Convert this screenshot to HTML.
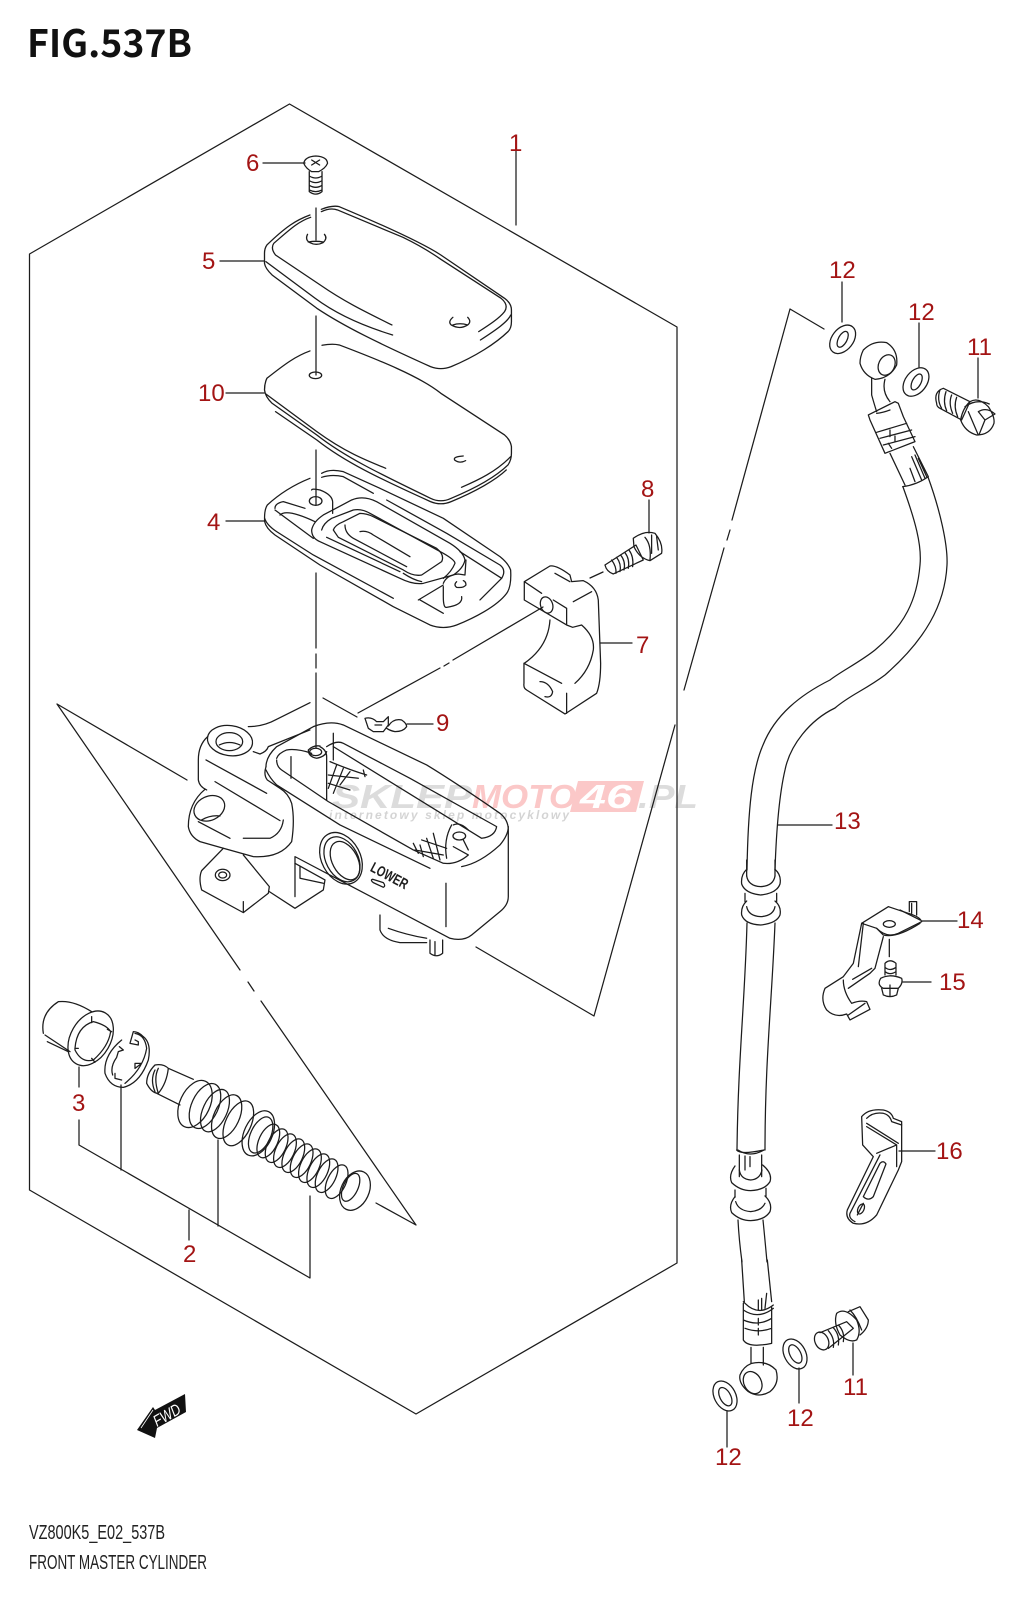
<!DOCTYPE html>
<html><head><meta charset="utf-8"><style>
html,body{margin:0;padding:0;background:#fff;width:1028px;height:1600px;overflow:hidden}
svg{display:block}
.l{fill:none;stroke:#1c1c1c;stroke-width:1.25;stroke-linejoin:round;stroke-linecap:round}
.z path,.z ellipse,.z circle{stroke-width:3.8}
text.n{font-family:"Liberation Sans",sans-serif;font-size:24px;fill:#a31414;stroke:none}
</style></head><body>
<svg width="1028" height="1600" viewBox="0 0 1028 1600" xmlns="http://www.w3.org/2000/svg">
<text x="27" y="57" font-family="Noto Sans CJK JP,Liberation Sans,sans-serif" font-weight="700" font-size="38" fill="#111" textLength="165" lengthAdjust="spacingAndGlyphs">FIG.537B</text>

<!-- watermark -->
<g font-family="Liberation Sans,sans-serif" font-style="italic" font-weight="700">
<path d="M578,781 H644 L636,812 H570 Z" fill="#fbc8c8"/>
<text x="332" y="808" font-size="33" fill="#dcdcdc" textLength="140" lengthAdjust="spacingAndGlyphs">SKLEP</text>
<text x="472" y="808" font-size="33" fill="#fbc8c8" textLength="104" lengthAdjust="spacingAndGlyphs">MOTO</text>
<text x="580" y="808" font-size="33" fill="#fff" textLength="52" lengthAdjust="spacingAndGlyphs">46</text>
<text x="638" y="808" font-size="33" fill="#dcdcdc" textLength="60" lengthAdjust="spacingAndGlyphs">.PL</text>
<text x="329" y="819" font-size="12" fill="#d4d4d4" textLength="240" lengthAdjust="spacing">internetowy sklep motocyklowy</text>
</g>

<!-- frames and leaders -->
<g class="l">
<path d="M289.5,104 L29.5,254 V1190 L416,1414 L677,1263 V327 Z"/>
<path d="M57,704 L187,780 M57,704 L240,970 M248,982 L254,991 M261,1001 L416,1225 L376,1203"/>
<path d="M790,309 L824,329 M790,309 L732,520 M730,530 L727,540 M724,548 L684,690 M675,725 L594,1016 L476,947"/>
<path d="M543,607 L453,660 M449,663 L444,666 M440,668 L358,713 M323,698 L357,717"/>
<path d="M516,225 V147"/><!-- 1 -->
<path d="M263,163 H305 M220,261 H264 M226,393 H264 M226,521 H264 M600,643 H632 M433,724 H407"/>
<path d="M649,500 V533 M590,578 L603,572"/>
<path d="M316,208 V240 M316,316 V375 M316,450 V505 M316,573 V648 M316,654 V668 M316,673 V748"/>
<path d="M842,282 V322 M919,323 V367 M978,358 V398"/>
<path d="M778,825 H832 M922,921 H957 M903,982 H931 M899,1151 H935"/>
<path d="M853,1343 V1375 M799,1368 V1403 M727,1412 V1447"/>
<path d="M79,1067 V1087 M79,1120 V1145 L310,1278 V1196 M121,1085 V1170 M218,1140 V1226 M189,1210 V1240"/>
</g>

<!-- lids (zoom 1 coordinates) -->
<g class="l z" transform="scale(.3444,.3333)">
<path d="M900,645 C860,660 830,680 775,735 Q768,745 768,760 V790 Q770,805 790,825 L920,925 C1000,980 1100,1030 1250,1100 Q1280,1112 1310,1100 C1380,1070 1440,1030 1475,995 Q1485,985 1485,965 V930 Q1485,910 1465,895 L1280,765 C1220,725 1100,670 985,620 Q965,615 933,628"/>
<path d="M902,652 C865,665 840,690 795,730 Q785,745 800,765 L930,855 C1000,905 1060,935 1138,975"/>
<path d="M772,785 L915,895 C980,945 1060,980 1140,1005"/>
<path d="M933,635 Q960,622 980,630 L1170,712 Q1230,742 1280,778 L1455,895 Q1478,915 1465,935 C1450,955 1420,975 1390,995"/>
<path d="M1395,1020 C1440,990 1475,965 1483,945"/>
<path d="M893,703 Q885,720 900,728 Q918,738 938,728 Q952,715 942,703 M895,726 Q918,722 938,726"/>
<path d="M1315,952 Q1300,965 1310,975 Q1335,990 1358,975 Q1370,965 1358,952 M1315,975 Q1335,968 1358,975"/>
<!-- screw -->
<path d="M882,490 Q885,470 917,468 Q950,470 951,490 Q945,505 925,515 H905 Q888,505 882,490 Z"/>
<path d="M905,480 L928,495 M928,480 L905,495"/>
<path d="M898,515 V575 Q917,590 935,575 V515 M898,528 Q917,540 935,528 M898,542 Q917,554 935,542 M898,556 Q917,568 935,556 M898,570 Q917,580 935,570"/>
<!-- gasket 10 -->
<path d="M900,1053 C860,1068 830,1090 775,1135 Q768,1150 768,1170 Q770,1190 790,1210 L920,1305 C1000,1370 1100,1420 1250,1495 Q1280,1510 1310,1495 C1380,1465 1440,1430 1475,1395 Q1485,1380 1485,1360 V1340 Q1482,1320 1465,1305 L1280,1180 C1220,1130 1100,1080 985,1035 Q965,1030 935,1036"/>
<path d="M772,1182 L920,1295 C1000,1355 1060,1380 1120,1405"/>
<path d="M800,1235 L920,1320 C1000,1385 1100,1435 1250,1505 Q1280,1518 1310,1505 C1380,1475 1440,1440 1470,1410"/>
<path d="M1340,1462 C1390,1440 1440,1415 1483,1370"/>
<ellipse cx="916" cy="1126" rx="18" ry="10"/>
<path d="M1345,1368 Q1315,1370 1320,1380 Q1335,1392 1352,1382"/>
</g>

<!-- reservoir gasket 4, clamp, body (zoom 2 coordinates) -->
<g class="l z" transform="translate(180,450) scale(.3333)">
<path d="M390,85 C340,105 300,130 262,165 Q252,180 254,215 Q258,235 285,255 L420,345 L640,470 L750,525 Q790,540 830,525 C880,505 950,470 980,430 Q995,410 992,360 Q985,340 960,320 L790,205 L600,115 L490,65 Q450,55 425,70"/>
<path d="M254,205 Q260,225 290,245 L400,315 L640,445"/>
<path d="M425,82 Q455,72 490,80 L580,130 M620,150 L800,250 L960,345 Q980,360 965,385 L900,450 M285,175 Q285,160 310,155 L375,175 M285,180 L400,265"/>
<path d="M300,195 Q320,175 405,215"/>
<path d="M395,240 Q400,215 430,195 L515,150 Q550,135 590,155 L810,280 Q850,305 855,330 Q850,355 820,375 L730,400 Q700,405 660,385 L420,275 Q395,265 395,240 Z"/>
<path d="M425,240 Q430,220 455,205 L520,180 Q545,175 570,190 L790,310 Q825,330 825,340 Q815,365 790,385 M440,262 L660,365 M725,395 Q700,390 670,370"/>
<path d="M460,240 Q465,225 490,215 L540,190 Q560,190 580,200 L770,295 Q795,315 785,335 L725,375 Q700,380 670,360 L475,262 Z"/>
<path d="M495,225 Q495,250 520,265 L680,350 M540,245 Q560,240 580,255 L690,320"/>
<path d="M395,120 Q395,115 420,120 Q460,135 458,160 V190"/>
<ellipse cx="407" cy="153" rx="19" ry="13"/>
<path d="M715,450 L790,405 M790,400 Q800,375 835,372 L855,375 L858,330 M790,440 V410 M845,440 Q850,465 800,472 Q790,475 790,440"/>
<path d="M830,395 Q820,405 830,412 Q850,415 858,405 Q858,395 850,392"/>
<path d="M720,450 L790,490 M965,385 L840,305"/>
<!-- clamp 7 -->
<path d="M1033,395 L1110,348 Q1130,345 1170,375 L1175,395 L1210,392 Q1250,410 1255,450 L1262,640 Q1262,700 1250,730 L1155,792 L1040,720 Q1030,715 1032,700 V640 L1145,700 M1033,395 V450 L1160,525 L1178,532 L1205,525 Q1245,560 1240,600 Q1230,660 1185,700 M1033,395 L1085,430 M1120,450 L1160,475 M1180,455 L1235,425 M1160,475 V525"/>
<path d="M1033,640 Q1105,590 1110,510"/>
<path d="M1125,370 L1170,395 M1160,730 V790"/>
<ellipse cx="1100" cy="465" rx="18" ry="25" transform="rotate(-20 1100 465)"/>
<path d="M1080,695 Q1105,695 1118,725 Q1115,745 1095,740"/>
<!-- bolt 8 -->
<path d="M1275,345 L1368,285 L1390,330 L1300,372 Q1280,365 1275,345 Z"/>
<path d="M1295,330 Q1310,350 1308,370 M1310,322 Q1325,342 1320,365 M1322,315 Q1338,335 1332,360 M1335,308 Q1350,328 1345,355 M1347,300 Q1362,320 1358,350"/>
<path d="M1360,265 Q1395,240 1425,250 Q1450,280 1445,310 L1410,332 Q1378,325 1362,290 Z"/>
<path d="M1395,262 Q1415,285 1410,330 M1415,255 V310 M1430,260 L1435,300"/>
<!-- wing nut 9 -->
<path d="M555,805 Q575,800 590,815 H610 L625,800 L625,825 L610,845 H580 L565,835 Z M585,825 H605"/>
<path d="M625,828 Q640,805 665,810 Q680,820 680,830 Q670,845 645,845 Q630,842 620,835"/>
<!-- body -->
<path d="M390,758 L290,808 Q250,830 205,830"/>
<ellipse cx="150" cy="872" rx="68" ry="45" transform="rotate(8 150 872)"/>
<ellipse cx="148" cy="875" rx="40" ry="27"/>
<path d="M118,885 Q148,870 180,885"/>
<path d="M83,860 Q55,885 55,930 V990 Q58,1010 80,1020 M220,905 L240,912 Q260,905 265,890 L390,840"/>
<path d="M78,930 L260,1030 M105,995 L300,1112"/>
<path d="M75,1018 Q25,1060 25,1130 Q30,1160 60,1175 L130,1195 L220,1220 Q300,1225 335,1175 Q345,1110 335,1060 Q325,1030 300,1015 L262,990 Q250,975 258,950"/>
<path d="M55,1115 L150,1165 M190,1165 L270,1165 Q305,1150 310,1110"/>
<ellipse cx="88" cy="1075" rx="48" ry="36" transform="rotate(-25 88 1075)"/>
<path d="M65,1110 Q90,1095 120,1098"/>
<path d="M258,950 Q258,920 290,890 L400,830 Q450,810 490,825 L740,945 Q830,1000 960,1090 Q985,1110 985,1140 V1340 Q985,1365 960,1385 L875,1455 Q850,1475 810,1465 L345,1220 V1340"/>
<path d="M258,960 Q270,985 290,1005 L480,1125 L750,1255 M845,1250 Q900,1240 960,1185 Q985,1155 985,1130"/>
<path d="M290,925 Q295,910 320,900 Q350,895 395,910 M290,930 Q290,950 305,960 L445,1055 L700,1200 L790,1240 Q830,1245 865,1215 L820,1190"/>
<path d="M440,890 Q470,870 490,880 L690,985 L950,1130 Q945,1160 905,1165 L460,890"/>
<path d="M460,850 V930 M333,920 V985 M440,920 V1050 M420,890 Q440,900 440,920 M385,900 Q400,885 420,888 M385,900 Q385,920 410,925 Q435,920 440,905"/>
<ellipse cx="407" cy="906" rx="18" ry="11"/>
<path d="M450,935 Q510,960 560,975 M470,945 L445,1015 M490,955 L460,1030 M510,965 L480,1005 M445,975 L535,985 M445,1000 L510,1020 M550,960 L555,980"/>
<path d="M700,1180 L715,1210 M720,1185 L730,1220 M740,1165 L760,1225 M760,1150 L780,1230 M815,1125 Q790,1170 800,1225 M705,1200 L790,1215 M725,1170 L800,1195"/>
<ellipse cx="838" cy="1158" rx="19" ry="12"/>
<path d="M820,1125 Q840,1115 865,1140 M850,1170 L865,1200"/>
<ellipse cx="483" cy="1225" rx="58" ry="82" transform="rotate(-28 483 1225)"/>
<ellipse cx="486" cy="1228" rx="48" ry="72" transform="rotate(-28 486 1228)"/>
<ellipse cx="495" cy="1232" rx="38" ry="62" transform="rotate(-28 495 1232)"/>
<path d="M798,1300 V1430"/>
<text font-family="Liberation Sans,sans-serif" font-weight="700" font-size="44" fill="#1c1c1c" style="stroke:none" transform="translate(568,1262) rotate(28) scale(.74,1)">LOWER</text>
<path d="M578,1288 L610,1298 Q618,1308 610,1312 L580,1298 Q570,1290 578,1288 Z"/>
<path d="M130,1195 L65,1262 Q55,1285 65,1320 L190,1388 L265,1330 L268,1310 L190,1215 M190,1388 V1355"/>
<ellipse cx="128" cy="1275" rx="22" ry="17"/>
<ellipse cx="128" cy="1275" rx="12" ry="9"/>
<path d="M268,1325 L345,1375 L430,1320 L435,1290 L345,1240 M360,1250 V1285 L430,1300"/>
<path d="M600,1395 V1440 Q610,1470 660,1478 H740 M625,1435 Q680,1455 740,1465"/>
<path d="M750,1470 V1510 Q770,1525 788,1510 V1470 M765,1475 V1515"/>
</g>

<!-- cap, circlip, piston, spring (zoom 3 coordinates) -->
<g class="l z" transform="translate(20,980) scale(.3333)">
<path d="M70,160 Q60,100 115,65 Q160,60 215,95 M75,165 L150,215 M82,185 L145,215"/>
<ellipse cx="212" cy="175" rx="60" ry="88" transform="rotate(30 212 175)"/>
<path d="M165,205 Q170,140 220,125 Q260,135 272,155 Q265,200 220,240 Q185,250 165,210 Z"/>
<path d="M215,110 V128 M262,148 L275,155 M165,205 H175 M215,235 L225,247"/>
<path d="M305,180 Q250,225 255,280 Q270,322 310,322 Q360,310 385,240 Q395,190 370,170 Q355,155 340,155 L330,190 L355,195 V185 L345,180 M345,160 Q375,165 380,205 Q370,265 315,310 M285,295 L305,300 M285,280 V295 M298,200 L310,210 L295,215 L290,232 Q270,260 278,285 M345,265 L365,250 L345,250 V265"/>
<path d="M405,255 Q380,280 380,310 Q395,340 415,340 Q440,310 445,265 Q430,250 405,255 Z M405,270 Q390,300 405,335 M415,265 Q400,295 415,340 M445,265 L520,298 M410,340 L480,375"/>
<ellipse cx="525" cy="372" rx="45" ry="75" transform="rotate(25 525 372)"/>
<ellipse cx="555" cy="378" rx="40" ry="72" transform="rotate(25 555 378)"/>
<ellipse cx="585" cy="392" rx="36" ry="68" transform="rotate(25 585 392)"/>
<ellipse cx="620" cy="410" rx="38" ry="70" transform="rotate(25 620 410)"/>
<ellipse cx="655" cy="430" rx="38" ry="72" transform="rotate(25 655 430)"/>
<ellipse cx="715" cy="460" rx="42" ry="72" transform="rotate(25 715 460)"/>
<ellipse cx="722" cy="465" rx="30" ry="58" transform="rotate(25 722 465)"/>
<ellipse cx="745" cy="483" rx="28" ry="54" transform="rotate(25 745 483)"/>
<ellipse cx="770" cy="497" rx="28" ry="54" transform="rotate(25 770 497)"/>
<ellipse cx="795" cy="512" rx="28" ry="54" transform="rotate(25 795 512)"/>
<ellipse cx="820" cy="527" rx="28" ry="54" transform="rotate(25 820 527)"/>
<ellipse cx="845" cy="542" rx="28" ry="54" transform="rotate(25 845 542)"/>
<ellipse cx="870" cy="557" rx="28" ry="54" transform="rotate(25 870 557)"/>
<ellipse cx="895" cy="572" rx="28" ry="54" transform="rotate(25 895 572)"/>
<ellipse cx="920" cy="587" rx="28" ry="54" transform="rotate(25 920 587)"/>
<ellipse cx="950" cy="605" rx="28" ry="54" transform="rotate(25 950 605)"/>
<ellipse cx="1005" cy="632" rx="42" ry="62" transform="rotate(25 1005 632)"/>
<ellipse cx="992" cy="622" rx="22" ry="45" transform="rotate(25 992 622)"/>
</g>

<!-- hose -->
<g class="l">
<path d="M903,487 C915,520 922,545 920,565 C917,600 905,625 875,650 C860,662 840,672 830,680 C800,695 775,715 763,745 C752,770 748,810 747,870"/>
<path d="M928,477 C940,510 948,545 947,565 C945,605 925,640 885,675 C865,690 850,695 835,708 C810,720 790,745 785,770 C778,800 776,840 775,870"/>
<path d="M747,923 C745,1000 738,1060 737,1150 M775,923 C772,1000 765,1060 765,1150"/>
<path d="M738,1150 Q750,1158 764,1150"/>
<path d="M738,1220 Q739,1240 742,1262 M763,1220 Q765,1240 767,1262"/>
</g>
<!-- fittings (zoom 4) -->
<g class="l z" transform="translate(720,260) scale(.3333)">
<ellipse cx="368" cy="238" rx="48" ry="32" transform="rotate(-52 368 238)"/>
<ellipse cx="368" cy="238" rx="26" ry="13" transform="rotate(-62 368 238)"/>
<ellipse cx="588" cy="366" rx="48" ry="32" transform="rotate(-52 588 366)"/>
<ellipse cx="590" cy="366" rx="26" ry="13" transform="rotate(-62 590 366)"/>
<path d="M430,270 Q460,240 500,248 Q535,270 530,315 Q510,355 465,358 Q430,345 420,310 Q420,290 430,270 Z"/>
<ellipse cx="500" cy="315" rx="24" ry="32" transform="rotate(25 500 315)"/>
<path d="M455,355 V405 Q465,440 470,455 M495,358 Q485,395 510,425 M470,460 Q490,458 510,450"/>
<path d="M445,465 L525,425 L535,430 L550,470 L585,545 L495,580 L450,480 Z M470,517 L560,490 M480,535 L575,510 M490,555 L585,530 M510,510 V530 M525,528 V545 M505,550 L515,565"/>
<path d="M510,580 L555,675 M580,560 L625,650 M548,680 Q590,675 625,650 M570,625 L585,665 M575,590 L605,660 M585,585 L615,655 M595,595 L620,650"/>
<path d="M650,430 Q640,395 670,385 L750,425 L725,480 L660,445 Q650,440 650,430 Z M660,390 Q650,420 665,445 M678,395 Q668,425 680,452 M695,405 Q685,430 698,460 M710,412 Q700,440 713,470"/>
<path d="M750,425 Q775,410 805,440 Q825,470 822,490 Q810,525 770,525 Q735,515 722,480 Q728,445 750,425 Z M735,440 Q770,415 808,432 M745,455 L775,525 M775,455 Q800,440 825,462 M775,455 L795,480 L825,462 M795,480 L778,522"/>
</g>
<!-- bracket & clamps & rings (zoom 5) -->
<g class="l z" transform="translate(720,860) scale(.3333)">
<path d="M80,28 Q62,45 65,72 Q75,100 122,105 Q170,100 180,72 Q185,45 165,28 M80,48 Q85,78 122,80 Q160,78 165,48"/>
<path d="M75,100 V125 M170,100 V125"/>
<path d="M80,123 Q62,140 65,165 Q75,193 122,195 Q170,190 180,165 Q185,140 165,123 M80,140 Q85,168 122,170 Q160,168 165,140"/>
<path d="M80,0 V48 M165,0 V48"/>
<path d="M50,870 Q60,885 132,870 M58,885 V950 M125,885 V950 M75,888 V930 M90,890 V920"/>
<path d="M45,918 Q25,945 35,968 Q60,992 92,992 Q135,990 150,965 Q158,940 128,915 M58,930 Q62,958 92,960 Q120,958 126,930"/>
<path d="M45,990 V1012 M138,985 V1010"/>
<path d="M45,1010 Q25,1035 35,1058 Q60,1082 92,1082 Q135,1080 150,1055 Q158,1030 135,1008 M47,1025 Q55,1052 92,1055 Q125,1052 135,1030"/>
<!-- bracket 14 -->
<path d="M425,190 L505,140 L565,160 Q600,170 605,185 L535,220 Q500,235 470,205 Z"/>
<path d="M540,150 L600,180 M470,205 L490,225 Q530,235 600,190"/>
<path d="M568,155 V125 L590,125 V165 M575,130 V160"/>
<ellipse cx="508" cy="192" rx="18" ry="10"/>
<path d="M425,190 L400,310 L370,350 L315,385 Q300,420 320,450 Q345,475 380,462 L390,480 L450,448 L440,425 Q420,420 395,430 Q370,395 370,360 M430,190 L415,320 M490,230 L465,325 L450,340 L385,385 M398,358 L455,325"/>
<path d="M385,465 L435,430"/>
<!-- bolt 15 -->
<path d="M508,238 V290"/>
<path d="M495,345 V310 Q510,295 528,310 V345 M495,322 Q510,335 528,322 M495,335 Q510,347 528,335"/>
<path d="M482,355 Q510,340 545,355 Q550,370 535,385 H490 Q470,375 482,355 Z M485,385 L490,405 Q510,415 530,405 L535,385 M510,375 V410"/>
<!-- bracket 16 -->
<path d="M425,770 Q445,745 490,750 Q515,755 520,775 L545,785 V905 L535,930 L470,1065 Q440,1100 400,1090 Q375,1075 382,1050 L460,890 L428,855 Z"/>
<path d="M440,775 Q460,755 490,760 Q510,765 515,785 L545,795 M440,790 L535,850 M440,800 L530,855 V920 M470,880 L530,855 M480,885 L390,1060 Q385,1075 405,1085"/>
<path d="M430,1010 L480,910 Q490,900 498,912 L460,1010 Q445,1025 430,1010 Z"/>
<ellipse cx="423" cy="1047" rx="9" ry="16" transform="rotate(25 423 1047)"/>
<path d="M430,1030 L412,1065"/>
</g>
<!-- lower fittings (zoom 6) -->
<g class="l z" transform="translate(680,1260) scale(.3333)">
<path d="M185,0 L193,125 M262,0 L275,125"/>
<path d="M190,125 L195,130 Q235,170 280,135 M190,150 Q235,180 280,145 M190,130 V240 Q205,265 275,250 V140 M190,180 Q235,200 275,175 M195,205 Q235,220 275,205 M235,175 V195 M235,205 V225"/>
<path d="M235,120 V150 M245,115 V150 M260,100 L255,145"/>
<path d="M213,262 V310 M250,262 V315"/>
<path d="M215,310 Q260,300 288,330 Q300,370 270,395 Q235,415 205,395 Q175,370 180,345 Q190,320 215,310 Z"/>
<ellipse cx="218" cy="368" rx="26" ry="35" transform="rotate(-28 218 368)"/>
<ellipse cx="135" cy="408" rx="32" ry="48" transform="rotate(-28 135 408)"/>
<ellipse cx="136" cy="410" rx="16" ry="30" transform="rotate(-28 136 410)"/>
<ellipse cx="345" cy="282" rx="32" ry="48" transform="rotate(-28 345 282)"/>
<ellipse cx="346" cy="282" rx="16" ry="30" transform="rotate(-28 346 282)"/>
<path d="M470,160 Q495,140 530,180 Q545,215 530,240 Q510,250 480,225 Q460,190 470,160 Z"/>
<path d="M505,155 L540,140 L565,180 Q565,205 540,225 M510,150 Q530,170 545,210"/>
<ellipse cx="425" cy="243" rx="20" ry="28" transform="rotate(-25 425 243)"/>
<path d="M420,218 L500,185 L520,205 L445,265 M445,212 Q465,235 460,262 M460,203 Q480,225 475,255 M475,195 Q495,215 490,245"/>
</g>
<!-- FWD arrow -->
<path d="M137,1430 L153,1407 L155,1410 L185,1394 L186,1412 L157,1428 L155,1438 Z" fill="#111"/>
<path d="M141,1428 L153,1410" stroke="#fff" stroke-width=".8" fill="none"/>
<text transform="translate(157,1427) rotate(-30)" font-family="Liberation Sans,sans-serif" font-size="16" font-style="italic" fill="#fff" textLength="29" lengthAdjust="spacingAndGlyphs">FWD</text>

<!-- numbers -->
<text class="n" x="509" y="151">1</text>
<text class="n" x="246" y="171">6</text>
<text class="n" x="202" y="269">5</text>
<text class="n" x="198" y="401">10</text>
<text class="n" x="207" y="530">4</text>
<text class="n" x="641" y="497">8</text>
<text class="n" x="636" y="653">7</text>
<text class="n" x="436" y="737" dy="-6">9</text>
<text class="n" x="72" y="1119" dy="-8">3</text>
<text class="n" x="183" y="1262">2</text>
<text class="n" x="829" y="280" dy="-2">12</text>
<text class="n" x="908" y="322" dy="-2">12</text>
<text class="n" x="967" y="357" dy="-2">11</text>
<text class="n" x="834" y="829">13</text>
<text class="n" x="957" y="928">14</text>
<text class="n" x="939" y="990">15</text>
<text class="n" x="936" y="1159">16</text>
<text class="n" x="843" y="1395">11</text>
<text class="n" x="787" y="1426">12</text>
<text class="n" x="715" y="1465">12</text>

<text x="29" y="1539" font-family="Liberation Sans,sans-serif" font-size="20" fill="#222" textLength="136" lengthAdjust="spacingAndGlyphs">VZ800K5_E02_537B</text>
<text x="29" y="1569" font-family="Liberation Sans,sans-serif" font-size="20" fill="#222" textLength="178" lengthAdjust="spacingAndGlyphs">FRONT MASTER CYLINDER</text>
</svg>
</body></html>
